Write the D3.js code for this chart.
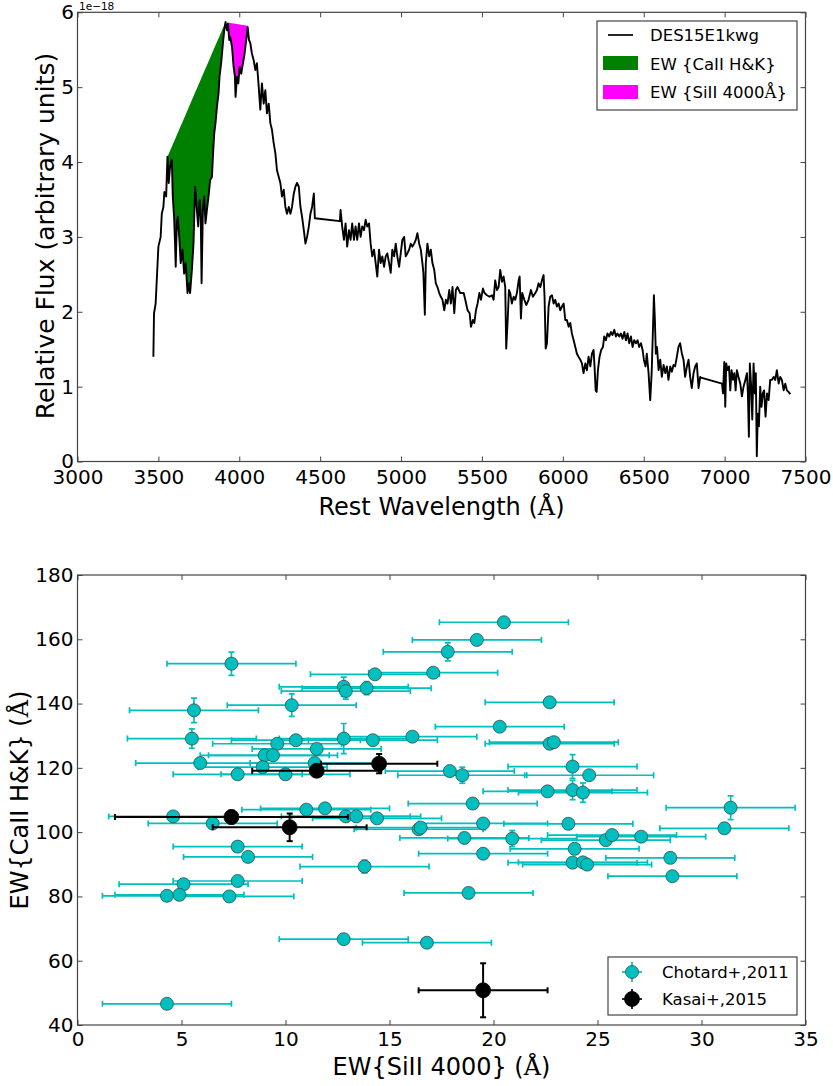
<!DOCTYPE html>
<html>
<head>
<meta charset="utf-8">
<script src="https://cdn.jsdelivr.net/npm/d3@7"></script>
<style>
body { margin: 0; background: #fff; }
text { font-family: "DejaVu Sans", sans-serif; fill: #000; }
</style>
</head>
<body>
<script>
/* globals d3:false */

// Spectrum of DES15E1kwg (flux in units of 1e-18)
var specWave = [3469, 3473, 3483, 3494, 3500, 3514, 3521, 3531, 3537, 3548,
	3556, 3564, 3572, 3583, 3589, 3597, 3603, 3607, 3614, 3620,
	3630, 3638, 3649, 3659, 3669, 3680, 3688, 3696, 3707, 3717,
	3727, 3738, 3746, 3755, 3762, 3767, 3775, 3783, 3791, 3800,
	3810, 3820, 3831, 3837, 3845, 3853, 3862, 3872, 3878, 3888,
	3899, 3907, 3915, 3924, 3930, 3938, 3944, 3955, 3965, 3973,
	3977, 3986, 3994, 4002, 4012, 4023, 4033, 4043, 4052, 4060,
	4068, 4078, 4089, 4099, 4109, 4120, 4130, 4140, 4151, 4161,
	4171, 4182, 4192, 4202, 4213, 4223, 4233, 4244, 4254, 4264,
	4275, 4285, 4295, 4306, 4316, 4326, 4337, 4347, 4357, 4368,
	4378, 4388, 4399, 4409, 4419, 4430, 4440, 4450, 4461, 4467,
	4622, 4626, 4636, 4647, 4657, 4667, 4678, 4688, 4698, 4709,
	4719, 4729, 4740, 4750, 4760, 4771, 4781, 4791, 4802, 4812,
	4822, 4833, 4843, 4853, 4864, 4874, 4884, 4895, 4905, 4915,
	4926, 4936, 4946, 4957, 4967, 4977, 4988, 4998, 5008, 5019,
	5029, 5039, 5050, 5060, 5070, 5081, 5091, 5101, 5112, 5122,
	5132, 5138, 5147, 5153, 5163, 5174, 5184, 5194, 5205, 5215,
	5225, 5236, 5246, 5256, 5267, 5277, 5287, 5298, 5308, 5318,
	5329, 5339, 5349, 5366, 5387, 5397, 5411, 5424, 5432, 5444,
	5453, 5463, 5473, 5484, 5494, 5506, 5516, 5531, 5547, 5562,
	5572, 5582, 5593, 5603, 5613, 5624, 5634, 5644, 5650, 5659,
	5667, 5675, 5685, 5696, 5706, 5716, 5727, 5733, 5741, 5749,
	5762, 5774, 5788, 5803, 5815, 5830, 5840, 5850, 5861, 5871,
	5881, 5887, 5894, 5902, 5912, 5922, 5933, 5943, 5953, 5963,
	5974, 5984, 5995, 6005, 6015, 6025, 6036, 6046, 6056, 6067,
	6077, 6087, 6097, 6108, 6118, 6128, 6139, 6149, 6159, 6170,
	6180, 6190, 6196, 6203, 6209, 6217, 6227, 6237, 6248, 6256,
	6266, 6276, 6287, 6297, 6307, 6318, 6328, 6338, 6349, 6359,
	6369, 6380, 6390, 6400, 6410, 6421, 6431, 6441, 6452, 6462,
	6472, 6483, 6493, 6501, 6511, 6519, 6530, 6540, 6549, 6557,
	6563, 6569, 6575, 6582, 6592, 6602, 6612, 6623, 6633, 6643,
	6653, 6664, 6674, 6684, 6694, 6705, 6715, 6725, 6736, 6746,
	6756, 6767, 6777, 6787, 6797, 6808, 6818, 6828, 6839, 6849,
	6854, 6984, 6990, 6998, 7004, 7010, 7018, 7027, 7035, 7043,
	7052, 7060, 7068, 7076, 7086, 7097, 7107, 7117, 7128, 7138,
	7144, 7150, 7156, 7164, 7171, 7179, 7187, 7193, 7199, 7205,
	7212, 7220, 7228, 7236, 7244, 7253, 7262, 7272, 7282, 7292,
	7303, 7313, 7323, 7334, 7344, 7354, 7365, 7375, 7385, 7395,
	7406];
var specFlux = [1.40, 1.98, 2.11, 2.60, 2.87, 3.00, 3.31, 3.40, 3.60, 3.54,
	4.07, 3.72, 3.94, 4.03, 3.54, 3.27, 2.91, 2.60, 3.18, 3.27,
	2.96, 2.65, 2.83, 2.51, 2.65, 2.25, 2.38, 2.25, 2.56, 2.91,
	3.67, 3.36, 3.14, 3.49, 3.27, 2.38, 3.36, 3.54, 3.18, 3.36,
	3.54, 3.76, 3.80, 4.07, 4.38, 4.52, 4.74, 4.92, 5.14, 5.32,
	5.59, 5.76, 5.87, 5.76, 5.85, 5.63, 5.67, 5.54, 5.27, 5.14,
	4.87, 5.14, 5.05, 5.27, 5.18, 5.32, 5.45, 5.63, 5.80, 5.63,
	5.59, 5.45, 5.36, 5.23, 5.32, 5.01, 4.70, 5.05, 4.78, 4.96,
	4.65, 4.78, 4.52, 4.43, 4.25, 4.12, 3.89, 3.80, 3.72, 3.54,
	3.63, 3.40, 3.31, 3.40, 3.31, 3.40, 3.58, 3.67, 3.72, 3.67,
	3.40, 3.27, 3.09, 2.91, 3.00, 3.14, 3.31, 3.40, 3.58, 3.25,
	3.21, 3.36, 3.14, 2.96, 3.18, 2.87, 3.09, 2.96, 3.18, 2.96,
	3.14, 2.96, 3.18, 3.00, 3.14, 3.09, 3.23, 3.14, 3.18, 2.91,
	2.74, 2.83, 2.65, 2.47, 2.83, 2.65, 2.74, 2.60, 2.74, 2.78,
	2.65, 2.52, 2.83, 2.74, 2.91, 2.74, 2.60, 2.78, 2.96, 3.00,
	2.74, 2.78, 2.83, 2.91, 2.87, 2.91, 2.96, 3.05, 2.91, 2.83,
	2.65, 2.52, 1.96, 2.65, 2.91, 2.74, 2.83, 2.65, 2.56, 2.38,
	2.33, 2.25, 2.20, 2.16, 2.02, 2.16, 2.11, 2.29, 2.11, 2.33,
	1.98, 2.29, 2.33, 2.25, 2.25, 2.16, 2.02, 1.98, 1.80, 1.89,
	1.85, 2.02, 2.11, 2.25, 2.16, 2.31, 2.25, 2.22, 2.20, 2.22,
	2.16, 2.42, 2.29, 2.33, 2.56, 2.40, 2.47, 2.33, 1.51, 1.89,
	2.29, 2.25, 2.11, 2.20, 2.16, 2.25, 2.42, 2.47, 1.91, 2.25,
	2.16, 2.09, 2.16, 2.29, 2.20, 2.25, 2.29, 2.38, 2.33, 2.42,
	2.49, 2.20, 1.51, 1.58, 2.07, 2.20, 2.22, 2.11, 2.16, 2.07,
	2.11, 2.02, 2.07, 2.11, 1.89, 1.89, 1.80, 1.85, 1.71, 1.62,
	1.53, 1.44, 1.40, 1.36, 1.31, 1.18, 1.31, 1.22, 1.40, 1.27,
	1.44, 1.49, 1.27, 0.95, 0.93, 1.22, 1.40, 1.49, 1.53, 1.67,
	1.62, 1.71, 1.67, 1.73, 1.69, 1.76, 1.67, 1.71, 1.67, 1.71,
	1.64, 1.73, 1.62, 1.71, 1.58, 1.67, 1.53, 1.62, 1.58, 1.62,
	1.53, 1.58, 1.49, 1.36, 1.27, 1.44, 1.18, 0.82, 1.18, 1.76,
	2.22, 1.89, 1.44, 1.53, 1.22, 1.36, 1.13, 1.29, 1.18, 1.27,
	1.09, 1.27, 1.20, 1.29, 1.27, 1.40, 1.53, 1.58, 1.44, 1.36,
	1.13, 1.27, 1.36, 1.13, 0.98, 1.18, 1.27, 1.31, 0.98, 1.13,
	1.12, 1.04, 0.91, 1.33, 0.73, 1.31, 1.22, 1.27, 0.95, 1.22,
	1.09, 1.18, 0.95, 1.22, 1.13, 1.04, 0.87, 1.00, 1.09, 1.18,
	0.91, 0.33, 1.31, 1.00, 0.56, 1.31, 0.91, 1.18, 0.07, 0.64,
	0.47, 1.00, 0.73, 0.91, 0.95, 0.60, 0.91, 0.82, 1.09, 1.09,
	1.13, 1.09, 1.22, 1.04, 1.13, 1.09, 0.95, 1.04, 0.95, 0.93,
	0.90];

// pseudo-continuum end points of the two features [wavelength, flux]
var caContinuum = [[3556, 4.07], [3915, 5.87]];
var siContinuum = [[3935, 5.86], [4052, 5.82]];

// Chotard+,2011 sample
var chotardSi = [20.5, 19.2, 17.8, 17.1, 14.3, 12.8, 12.9, 13.9, 7.4, 5.6,
	10.3, 5.5, 12.8, 14.2, 16.1, 10.5, 9.6, 11.5, 9.0, 9.4,
	5.9, 11.4, 8.9, 7.7, 10.0, 4.6, 11.0, 11.9, 12.9, 13.4,
	14.4, 6.5, 16.4, 16.5, 7.7, 8.2, 13.8, 5.1, 7.7, 4.3,
	4.9, 7.3, 12.8, 4.3, 16.8, 18.8, 19.5, 18.6, 20.9, 19.5,
	23.6, 31.1, 23.9, 23.8, 24.3, 24.5, 25.4, 25.7, 27.1, 28.5,
	28.6, 22.7, 20.3, 22.7, 22.9, 17.9, 18.5, 23.8, 24.6, 22.6,
	23.8, 24.3, 19.0, 31.4];
var chotardCa = [165.3, 159.8, 156.1, 149.6, 149.1, 145.2, 143.9, 144.8, 152.4, 137.9,
	139.5, 129.1, 129.1, 128.6, 129.7, 128.6, 127.5, 125.9, 123.9, 123.9,
	121.5, 121.5, 120.2, 118.0, 118.0, 104.9, 107.0, 107.4, 104.9, 104.9,
	104.3, 102.7, 100.9, 101.4, 95.5, 92.3, 89.3, 83.8, 84.8, 80.2,
	80.5, 80.0, 66.7, 46.6, 65.6, 81.1, 93.3, 98.2, 98.0, 102.7,
	102.6, 101.2, 94.8, 90.5, 90.6, 89.9, 97.5, 99.1, 98.6, 92.0,
	86.3, 140.4, 132.8, 127.5, 128.0, 119.0, 117.7, 120.4, 117.7, 112.7,
	113.1, 112.3, 108.9, 107.6];
var chotardSiErr = [3.1, 3.1, 3.1, 3.1, 3.1, 3.1, 3.1, 3.1, 3.1, 3.1,
	3.1, 3.1, 3.1, 3.1, 3.1, 3.1, 3.1, 3.1, 3.1, 3.1,
	3.1, 3.1, 3.1, 3.1, 3.1, 3.1, 3.1, 3.1, 3.1, 3.1,
	3.1, 3.1, 3.1, 3.1, 3.1, 3.1, 3.1, 3.1, 3.1, 3.1,
	3.1, 3.1, 3.1, 3.1, 3.1, 3.1, 3.1, 3.1, 3.1, 3.1,
	3.1, 3.1, 3.1, 3.1, 3.1, 3.1, 3.1, 3.1, 3.1, 3.1,
	3.1, 3.1, 3.1, 3.1, 3.1, 3.1, 3.1, 3.1, 3.1, 3.1,
	3.1, 3.1, 3.1, 3.1];
var chotardCaErr = [1.5, 1.5, 2.8, 1.5, 1.5, 3.0, 2.5, 2.0, 3.6, 3.8,
	3.5, 3.0, 4.7, 1.5, 1.5, 1.5, 1.5, 1.5, 1.5, 1.5,
	1.5, 1.5, 1.5, 1.5, 1.5, 1.5, 1.5, 1.5, 1.5, 1.5,
	1.5, 1.5, 1.5, 1.5, 1.5, 1.5, 2.0, 1.5, 1.5, 1.5,
	1.5, 1.5, 1.5, 1.5, 1.5, 1.5, 1.5, 1.5, 2.5, 1.5,
	1.5, 1.5, 1.5, 1.5, 1.5, 1.5, 1.5, 1.5, 1.5, 1.5,
	1.5, 1.5, 1.5, 1.5, 1.5, 1.5, 2.5, 3.7, 1.5, 1.5,
	3.0, 3.0, 1.5, 3.7];

// Kasai+,2015 sample
var kasaiSi = [7.4, 10.2, 11.5, 14.5, 19.5];
var kasaiCa = [104.7, 101.5, 119.1, 121.3, 50.8];
var kasaiSiErr = [5.6, 3.7, 3.1, 2.8, 3.1];
var kasaiCaErr = [2.0, 4.3, 1.5, 3.0, 8.4];

// tick values
var waveTicks = [3000, 3500, 4000, 4500, 5000, 5500, 6000, 6500, 7000, 7500];
var fluxTicks = [0, 1, 2, 3, 4, 5, 6];
var siTicks = [0, 5, 10, 15, 20, 25, 30, 35];
var caTicks = [40, 60, 80, 100, 120, 140, 160, 180];

var cyan = "#00bfbf";

var svg = d3.select("body").append("svg")
	.attr("width", 833)
	.attr("height", 1086);

// draw a boxed axes with inward ticks on all four sides
function drawFrame(x, y, xTicks, yTicks, pad) {
	var g = svg.append("g");
	var x0 = x.range()[0], x1 = x.range()[1];
	var y0 = y.range()[0], y1 = y.range()[1];
	var fmt = d3.format("d");

	g.append("g")
		.attr("transform", "translate(0," + y0 + ")")
		.call(d3.axisBottom(x).tickValues(xTicks).tickFormat(fmt)
			.tickSizeInner(-5).tickSizeOuter(0).tickPadding(pad.x));
	g.append("g")
		.attr("transform", "translate(0," + y1 + ")")
		.call(d3.axisTop(x).tickValues(xTicks).tickSizeInner(-5).tickSizeOuter(0).tickFormat(""));
	g.append("g")
		.attr("transform", "translate(" + x0 + ",0)")
		.call(d3.axisLeft(y).tickValues(yTicks).tickFormat(fmt)
			.tickSizeInner(-5).tickSizeOuter(0).tickPadding(pad.y));
	g.append("g")
		.attr("transform", "translate(" + x1 + ",0)")
		.call(d3.axisRight(y).tickValues(yTicks).tickSizeInner(-5).tickSizeOuter(0).tickFormat(""));

	g.selectAll(".domain").remove();
	g.selectAll(".tick line").attr("stroke", "#444");
	g.selectAll(".tick text")
		.style("font-family", "DejaVu Sans")
		.style("font-size", "20px")
		.attr("fill", "#000");

	g.append("rect")
		.attr("x", x0).attr("y", y1)
		.attr("width", x1 - x0).attr("height", y0 - y1)
		.attr("fill", "none")
		.attr("stroke", "#444")
		.attr("stroke-width", 1.2);
	return g;
}

/* ---------------- top panel: spectrum ---------------- */
var xTop = d3.scaleLinear().domain([3000, 7500]).range([77.5, 805.5]);
var yTop = d3.scaleLinear().domain([0, 6]).range([461.5, 12.3]);

var spec = specWave.map(function(w, i) { return [w, specFlux[i]]; });

// fill between pseudo-continuum and spectrum
function featurePoints(cont) {
	var c = d3.scaleLinear().domain([cont[0][0], cont[1][0]]).range([cont[0][1], cont[1][1]]);
	var pts = [[cont[0][0], cont[0][1], cont[0][1]]];
	spec.forEach(function(d) {
		if (d[0] > cont[0][0] && d[0] < cont[1][0]) pts.push([d[0], c(d[0]), d[1]]);
	});
	pts.push([cont[1][0], cont[1][1], cont[1][1]]);
	return pts;
}

var featureArea = d3.area()
	.x(function(d) { return xTop(d[0]); })
	.y0(function(d) { return yTop(d[1]); })
	.y1(function(d) { return yTop(d[2]); });

svg.append("path")
	.datum(featurePoints(caContinuum))
	.attr("d", featureArea)
	.attr("fill", "#008000");

svg.append("path")
	.datum(featurePoints(siContinuum))
	.attr("d", featureArea)
	.attr("fill", "#ff00ff");

svg.append("path")
	.datum(spec)
	.attr("d", d3.line()
		.x(function(d) { return xTop(d[0]); })
		.y(function(d) { return yTop(d[1]); }))
	.attr("fill", "none")
	.attr("stroke", "#000")
	.attr("stroke-width", 1.9)
	.attr("stroke-linejoin", "round");

drawFrame(xTop, yTop, waveTicks, fluxTicks, {x: 8, y: 3.5});

svg.append("text")
	.attr("x", 79).attr("y", 10)
	.style("font-size", "10.5px")
	.text("1e\u221218");

svg.append("text")
	.attr("transform", "translate(54,236) rotate(-90)")
	.attr("text-anchor", "middle")
	.style("font-size", "25px")
	.text("Relative Flux (arbitrary units)");

var xlabTop = svg.append("text")
	.attr("x", 441.5).attr("y", 515)
	.attr("text-anchor", "middle")
	.style("font-size", "24px");
xlabTop.append("tspan").text("Rest Wavelength (");
xlabTop.append("tspan").style("font-family", "DejaVu Serif").text("\u00c5");
xlabTop.append("tspan").text(")");

// legend of the top panel
var legTop = svg.append("g");
legTop.append("rect")
	.attr("x", 597).attr("y", 21).attr("width", 200).attr("height", 89)
	.attr("fill", "#fff").attr("stroke", "#444").attr("stroke-width", 1.2);
legTop.append("line")
	.attr("x1", 608).attr("x2", 633).attr("y1", 35).attr("y2", 35)
	.attr("stroke", "#000").attr("stroke-width", 1.7);
legTop.append("rect")
	.attr("x", 603).attr("y", 56).attr("width", 35).attr("height", 14)
	.attr("fill", "#008000");
legTop.append("rect")
	.attr("x", 603).attr("y", 85).attr("width", 35).attr("height", 14)
	.attr("fill", "#ff00ff");
var legTopText = ["DES15E1kwg", "EW {CaII H&K}", "EW {SiII 4000"];
legTopText.forEach(function(t, i) {
	var tx = legTop.append("text")
		.attr("x", 650).attr("y", 41 + i * 28.6)
		.style("font-size", "16.5px")
		.text(t);
	if (i === 2) {
		tx.append("tspan").style("font-family", "DejaVu Serif").text("\u00c5");
		tx.append("tspan").text("}");
	}
});

/* ---------------- bottom panel: EW scatter ---------------- */
var xBot = d3.scaleLinear().domain([0, 35]).range([77.5, 805.5]);
var yBot = d3.scaleLinear().domain([40, 180]).range([1025, 575]);

svg.append("clipPath").attr("id", "clipBot")
	.append("rect")
	.attr("x", 77.5).attr("y", 575).attr("width", 728).attr("height", 450);

var plotBot = svg.append("g").attr("clip-path", "url(#clipBot)");

function errorSeries(xs, ys, xe, ye, color, r, edge, lw) {
	var data = xs.map(function(v, i) { return {x: v, y: ys[i], xe: xe[i], ye: ye[i]}; });
	var g = plotBot.append("g");
	var cap = 3;
	var bars = g.selectAll(".eb").data(data).enter().append("g")
		.attr("stroke", color).attr("stroke-width", lw);
	bars.append("line")
		.attr("x1", function(d) { return xBot(d.x - d.xe); })
		.attr("x2", function(d) { return xBot(d.x + d.xe); })
		.attr("y1", function(d) { return yBot(d.y); })
		.attr("y2", function(d) { return yBot(d.y); });
	bars.append("line")
		.attr("x1", function(d) { return xBot(d.x); })
		.attr("x2", function(d) { return xBot(d.x); })
		.attr("y1", function(d) { return yBot(d.y - d.ye); })
		.attr("y2", function(d) { return yBot(d.y + d.ye); });
	[-1, 1].forEach(function(s) {
		bars.append("line")
			.attr("x1", function(d) { return xBot(d.x + s * d.xe); })
			.attr("x2", function(d) { return xBot(d.x + s * d.xe); })
			.attr("y1", function(d) { return yBot(d.y) - cap; })
			.attr("y2", function(d) { return yBot(d.y) + cap; });
		bars.append("line")
			.attr("x1", function(d) { return xBot(d.x) - cap; })
			.attr("x2", function(d) { return xBot(d.x) + cap; })
			.attr("y1", function(d) { return yBot(d.y + s * d.ye); })
			.attr("y2", function(d) { return yBot(d.y + s * d.ye); });
	});
	g.selectAll(".pt").data(data).enter().append("circle")
		.attr("cx", function(d) { return xBot(d.x); })
		.attr("cy", function(d) { return yBot(d.y); })
		.attr("r", r)
		.attr("fill", color)
		.attr("stroke", edge)
		.attr("stroke-width", 0.8);
}

errorSeries(chotardSi, chotardCa, chotardSiErr, chotardCaErr, cyan, 6.5, "#2d4f4f", 1.7);
errorSeries(kasaiSi, kasaiCa, kasaiSiErr, kasaiCaErr, "#000", 7.5, "#000", 2);

drawFrame(xBot, yBot, siTicks, caTicks, {x: 7, y: 4});

var ylabBot = svg.append("text")
	.attr("transform", "translate(28,800) rotate(-90)")
	.attr("text-anchor", "middle")
	.style("font-size", "24px");
ylabBot.append("tspan").text("EW{CaII H&K} (");
ylabBot.append("tspan").style("font-family", "DejaVu Serif").text("\u00c5");
ylabBot.append("tspan").text(")");

var xlabBot = svg.append("text")
	.attr("x", 441.5).attr("y", 1075)
	.attr("text-anchor", "middle")
	.style("font-size", "24px");
xlabBot.append("tspan").text("EW{SiII 4000} (");
xlabBot.append("tspan").style("font-family", "DejaVu Serif").text("\u00c5");
xlabBot.append("tspan").text(")");

// legend of the bottom panel
var legBot = svg.append("g");
legBot.append("rect")
	.attr("x", 608).attr("y", 957).attr("width", 189).attr("height", 58)
	.attr("fill", "#fff").attr("stroke", "#444").attr("stroke-width", 1.2);
var legBotItems = [
	{label: "Chotard+,2011", color: cyan, edge: "#2d4f4f", r: 6.5, y: 972},
	{label: "Kasai+,2015", color: "#000", edge: "#000", r: 7.5, y: 999}
];
legBotItems.forEach(function(d) {
	var mx = 632;
	legBot.append("line")
		.attr("x1", mx - 10).attr("x2", mx + 10).attr("y1", d.y).attr("y2", d.y)
		.attr("stroke", d.color).attr("stroke-width", 1.7);
	legBot.append("line")
		.attr("x1", mx).attr("x2", mx).attr("y1", d.y - 10).attr("y2", d.y + 10)
		.attr("stroke", d.color).attr("stroke-width", 1.7);
	legBot.append("circle")
		.attr("cx", mx).attr("cy", d.y).attr("r", d.r)
		.attr("fill", d.color).attr("stroke", d.edge).attr("stroke-width", 0.8);
	legBot.append("text")
		.attr("x", 662).attr("y", d.y + 6)
		.style("font-size", "16.5px")
		.text(d.label);
});
</script>
</body>
</html>
